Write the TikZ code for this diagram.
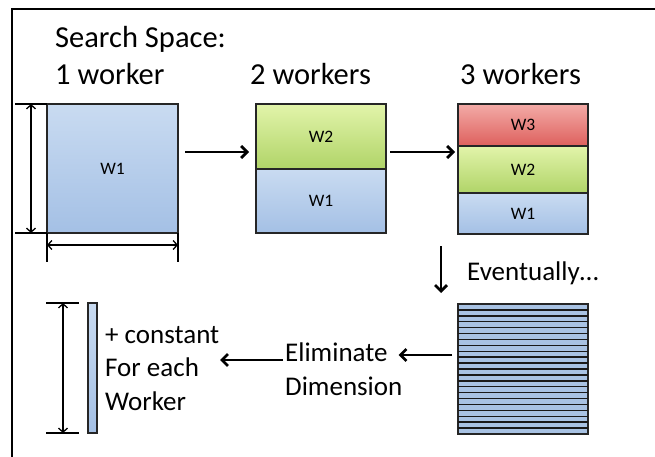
\documentclass[tikz,border=0pt]{standalone}
\usepackage{fontspec}
\setmainfont{Carlito}
\usetikzlibrary{arrows.meta}
\definecolor{blueT}{HTML}{C9DBF1}
\definecolor{blueB}{HTML}{A4C0E5}
\definecolor{greenT}{HTML}{E2F4AA}
\definecolor{greenB}{HTML}{B0D468}
\definecolor{redT}{HTML}{F3ABA7}
\definecolor{redB}{HTML}{DE605D}
\definecolor{stripe}{HTML}{A8C2E3}
\begin{document}
\begin{tikzpicture}[x=1pt,y=-1pt,
  part/.style={draw=black!85, line width=1.1, minimum width=130, inner sep=0,
    outer sep=0, font=\fontsize{17.5}{20}\selectfont},
  bluepart/.style={part, top color=blueT, bottom color=blueB},
  greenpart/.style={part, top color=greenT, bottom color=greenB},
  redpart/.style={part, top color=redT, bottom color=redB},
  title/.style={anchor=base west, inner sep=0, font=\fontsize{30.5}{36}\selectfont},
  note/.style={anchor=base west, inner sep=0, align=left,
    font=\fontsize{27}{33.5}\selectfont},
  flow/.style={line width=2.7, -{Straight Barb[length=6pt,width=12pt]}},
  dimarrow/.style={line width=1.3,
    {Straight Barb[length=4pt,width=9pt]}-{Straight Barb[length=4pt,width=9pt]}},
  ext/.style={line width=1.3},
]
\useasboundingbox (0,0) rectangle (655,457);

% frame
\draw[line width=2] (11,9) -- (655,9);
\draw[line width=2] (12,9) -- (12,457);

% titles
\node[title] (ttl) at (55,48) {Search Space:};
\node[title] (t1) at (55,85) {1 worker};
\node[title] (t2) at (250,85) {2 workers};
\node[title] (t3) at (460,85) {3 workers};

% one worker
\node[bluepart, minimum width=131, minimum height=129] (a1) at (112.5,168.5) {W1};

% two workers
\node[greenpart, minimum height=65] (b2) at (321,136.5) {W2};
\node[bluepart, minimum height=64, anchor=north] (b1) at (b2.south) {W1};

% three workers
\node[redpart, minimum height=42] (c3) at (523,125) {W3};
\node[greenpart, minimum height=47, anchor=north] (c2) at (c3.south) {W2};
\node[bluepart, minimum height=41, anchor=north] (c1) at (c2.south) {W1};

% many workers: striped square
\node[part, fill=stripe, minimum height=130] (many) at (523,369) {};
\foreach \i in {1,...,21}
  \draw[line width=1.4, black!90]
    ([shift={(0,\i*130/22)}]many.north west) -- ([shift={(0,\i*130/22)}]many.north east);

% reduced bar
\node[part, top color=blueT, bottom color=blueB, minimum width=9, minimum height=130]
  (bar) at (92.5,368) {};

% dimension marks of the square
\coordinate (v1) at (15,104);
\coordinate (v2) at (15,233);
\draw[ext] (v1) -- (a1.north west);
\draw[ext] (v2) -- (a1.south west);
\draw[dimarrow] (31,104) -- (31,233);
\coordinate (h1) at (47,262);
\coordinate (h2) at (178,262);
\draw[ext] (a1.south west) -- (h1);
\draw[ext] (a1.south east) -- (h2);
\draw[dimarrow] (47,245) -- (178,245);

% dimension mark of the bar
\coordinate (u1) at (46,303);
\coordinate (u2) at (46,433);
\draw[ext] (u1) -- (79,303);
\draw[ext] (u2) -- (79,433);
\draw[dimarrow] (63,303) -- (63,433);

% texts
\node[title, font=\fontsize{27}{33.5}\selectfont] (ev) at (467,280) {Eventually…};
\node[note] (elim) at (285,395) {Eliminate\\Dimension};
\node[note] (cst) at (105,410) {+ constant\\For each\\Worker};

% flow arrows
\coordinate (f1) at ([shift={(7,-16.5)}]a1.east);
\draw[flow] (f1) -- ([xshift=-7]f1 -| b2.west);
\coordinate (f2) at ([shift={(4,15.5)}]b2.east);
\draw[flow] (f2) -- ([xshift=-3]f2 -| c2.west);
\draw[flow] (441,246) -- (441,293);
\coordinate (f3) at ([shift={(-6,-14)}]many.west);
\draw[flow] (f3) -- ([xshift=-4]f3 -| elim.east);
\draw[flow] (283,360) -- (220,360);
\end{tikzpicture}
\end{document}
